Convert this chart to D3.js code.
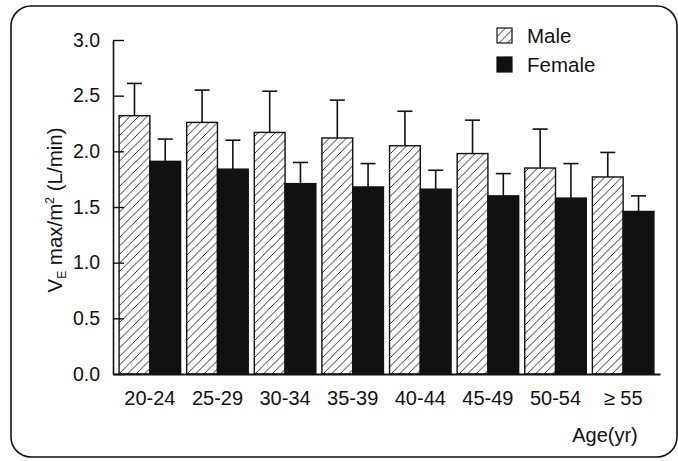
<!DOCTYPE html>
<html lang="en">
<head>
  <meta charset="UTF-8">
  <title>VE max by age and sex</title>
  <script src="https://d3js.org/d3.v7.min.js"></script>
  <style>
    body { margin: 0; background: #fff; }
    text { font-family: "Liberation Sans", Arial, sans-serif; fill: #111; }
  </style>
</head>
<body>
  <div id="chart"></div>
  <script>
    // Data
    var ageGroups = ["20-24", "25-29", "30-34", "35-39", "40-44", "45-49", "50-54", "\u2265 55"];
    var maleMean   = [2.32, 2.26, 2.17, 2.12, 2.05, 1.98, 1.85, 1.77];
    var maleTop    = [2.61, 2.55, 2.54, 2.46, 2.36, 2.28, 2.20, 1.99];
    var femaleMean = [1.91, 1.84, 1.71, 1.68, 1.66, 1.60, 1.58, 1.46];
    var femaleTop  = [2.11, 2.10, 1.90, 1.89, 1.83, 1.80, 1.89, 1.60];
    var series = ["Male", "Female"];
    var yTicks = [0, 0.5, 1.0, 1.5, 2.0, 2.5, 3.0];

    var W = 678, H = 461;

    var svg = d3.select("#chart").append("svg")
        .attr("width", W)
        .attr("height", H);

    // hatch pattern for male bars
    var defs = svg.append("defs");
    defs.append("pattern")
        .attr("id", "hatch")
        .attr("patternUnits", "userSpaceOnUse")
        .attr("width", 8.5)
        .attr("height", 8.5)
      .append("path")
        .attr("d", "M-2,10.5 L10.5,-2 M-2,2 L2,-2 M6.5,10.5 L10.5,6.5")
        .attr("stroke", "#111")
        .attr("stroke-width", 0.9);

    // rounded frame
    svg.append("rect")
        .attr("x", 11).attr("y", 6)
        .attr("width", 666).attr("height", 451)
        .attr("rx", 20).attr("ry", 20)
        .attr("fill", "none")
        .attr("stroke", "#111")
        .attr("stroke-width", 1.6);

    var x = d3.scaleBand()
        .domain(ageGroups)
        .range([113, 660])
        .paddingInner(0.09)
        .paddingOuter(0.09);

    var xs = d3.scaleBand()
        .domain(series)
        .range([0, x.bandwidth()]);

    var y = d3.scaleLinear()
        .domain([0, 3])
        .range([374, 40]);

    var rows = ageGroups.map(function(g, i) {
      return [
        {group: g, key: "Male", v: maleMean[i], top: maleTop[i]},
        {group: g, key: "Female", v: femaleMean[i], top: femaleTop[i]}
      ];
    });
    var flat = [].concat.apply([], rows);

    // error bars (upper only)
    var err = svg.append("g").attr("stroke", "#111").attr("stroke-width", 1.6);
    err.selectAll("line.v").data(flat).enter().append("line")
        .attr("x1", function(d) { return x(d.group) + xs(d.key) + xs.bandwidth() / 2; })
        .attr("x2", function(d) { return x(d.group) + xs(d.key) + xs.bandwidth() / 2; })
        .attr("y1", function(d) { return y(d.v); })
        .attr("y2", function(d) { return y(d.top); });
    err.selectAll("line.c").data(flat).enter().append("line")
        .attr("x1", function(d) { return x(d.group) + xs(d.key) + xs.bandwidth() / 2 - 7.5; })
        .attr("x2", function(d) { return x(d.group) + xs(d.key) + xs.bandwidth() / 2 + 7.5; })
        .attr("y1", function(d) { return y(d.top); })
        .attr("y2", function(d) { return y(d.top); });

    // bars
    svg.append("g").selectAll("rect").data(flat).enter().append("rect")
        .attr("x", function(d) { return x(d.group) + xs(d.key); })
        .attr("y", function(d) { return y(d.v); })
        .attr("width", xs.bandwidth())
        .attr("height", function(d) { return y(0) - y(d.v); })
        .attr("fill", function(d) { return d.key === "Male" ? "url(#hatch)" : "#111"; })
        .attr("stroke", "#111")
        .attr("stroke-width", 1.4);

    // y axis, ticks pointing inward
    var yAxis = svg.append("g")
        .attr("transform", "translate(113,0)")
        .call(d3.axisLeft(y).tickValues(yTicks).tickFormat(d3.format(".1f"))
              .tickSize(-11).tickSizeOuter(0).tickPadding(13));
    yAxis.select(".domain").attr("stroke", "#111").attr("stroke-width", 1.6);
    yAxis.selectAll(".tick line").attr("stroke", "#111").attr("stroke-width", 1.4);
    yAxis.selectAll(".tick text")
        .style("font-size", "19.5px")
        .attr("fill", "#111");

    // x axis
    var xAxis = svg.append("g")
        .attr("transform", "translate(0,374)")
        .call(d3.axisBottom(x).tickSize(0).tickSizeOuter(0).tickPadding(17));
    xAxis.select(".domain").attr("stroke", "#111").attr("stroke-width", 1.8);
    xAxis.selectAll(".tick text")
        .style("font-size", "20px")
        .attr("fill", "#111");

    // y label
    var yl = svg.append("text")
        .attr("transform", "translate(62,210) rotate(-90)")
        .attr("text-anchor", "middle")
        .style("font-size", "20.5px");
    yl.append("tspan").text("V");
    yl.append("tspan").attr("dy", 4).style("font-size", "12px").text("E");
    yl.append("tspan").attr("dy", -4).text(" max/m");
    yl.append("tspan").attr("dy", -8).style("font-size", "12px").text("2");
    yl.append("tspan").attr("dy", 8).text(" (L/min)");

    // x label
    svg.append("text")
        .attr("x", 605).attr("y", 442)
        .attr("text-anchor", "middle")
        .style("font-size", "20px")
        .text("Age(yr)");

    // legend
    var leg = svg.append("g").selectAll("g").data(series).enter().append("g")
        .attr("transform", function(d, i) { return "translate(497," + (28 + i * 29) + ")"; });
    leg.append("rect")
        .attr("width", 15).attr("height", 15)
        .attr("fill", function(d) { return d === "Male" ? "url(#hatch)" : "#111"; })
        .attr("stroke", "#111")
        .attr("stroke-width", 1.2);
    leg.append("text")
        .attr("x", 30).attr("y", 15)
        .style("font-size", "20.5px")
        .text(function(d) { return d; });
  </script>
</body>
</html>
